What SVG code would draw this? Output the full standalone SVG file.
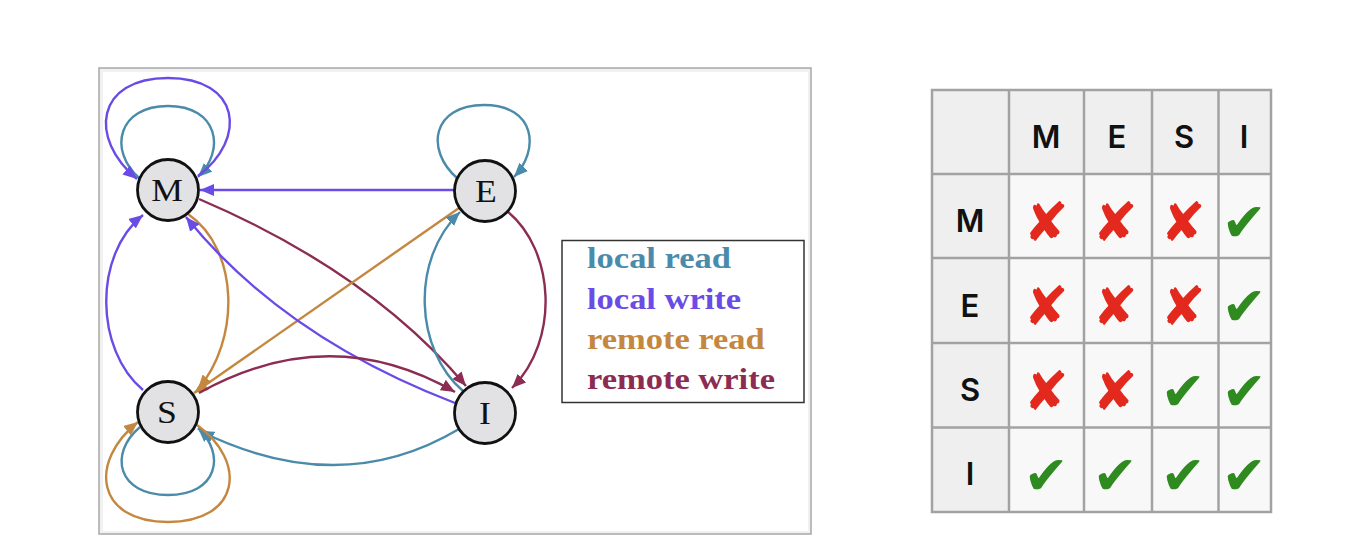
<svg xmlns="http://www.w3.org/2000/svg" width="1346" height="551" viewBox="0 0 1346 551">
<style>
.edge{fill:none;stroke-width:2.4}
.lr{stroke:#4a8aaa}
.lw{stroke:#6a4be6}
.rr{stroke:#c4873f}
.rw{stroke:#8c2c52}
.node circle{fill:#e2e2e4;stroke:#111;stroke-width:2.8}
.nlabel{font-family:"Liberation Serif","Times New Roman",serif;font-size:31px;fill:#111;text-anchor:middle}
.leg{font-family:"Liberation Serif","Times New Roman",serif;font-size:30px;font-weight:bold}
.th{font-family:Inter,Roboto,"Liberation Sans",Arial,sans-serif;font-weight:600;font-size:31px;fill:#111;text-anchor:middle}
.x{font-family:"DejaVu Sans",sans-serif;font-size:54px;fill:#e3281d;text-anchor:middle}
.ok{font-family:"DejaVu Sans",sans-serif;font-size:54px;fill:#2f8a20;text-anchor:middle}
.hd{fill:#efefef}
.cell{fill:#f8f8f8}
.grid{stroke:#a2a2a2;stroke-width:2.5;fill:none}
</style>
<defs>
<marker id="a-lr" markerUnits="userSpaceOnUse" markerWidth="15" markerHeight="12" refX="14" refY="6" orient="auto"><path d="M0,0 L14,6 L0,12 z" fill="#4a8aaa"/></marker>
<marker id="a-lw" markerUnits="userSpaceOnUse" markerWidth="15" markerHeight="12" refX="14" refY="6" orient="auto"><path d="M0,0 L14,6 L0,12 z" fill="#6a4be6"/></marker>
<marker id="a-rr" markerUnits="userSpaceOnUse" markerWidth="15" markerHeight="12" refX="14" refY="6" orient="auto"><path d="M0,0 L14,6 L0,12 z" fill="#c4873f"/></marker>
<marker id="a-rw" markerUnits="userSpaceOnUse" markerWidth="15" markerHeight="12" refX="14" refY="6" orient="auto"><path d="M0,0 L14,6 L0,12 z" fill="#8c2c52"/></marker>
</defs>
<rect width="1346" height="551" fill="#fff"/>
<!-- panel -->
<rect x="99" y="68" width="712" height="466" fill="#f1f1f1" stroke="#a8a8a8" stroke-width="1.5"/>
<rect x="103" y="72" width="705" height="459" fill="#fff"/>

<g id="connectors">
<!-- M self loops -->
<path class="edge lr" marker-end="url(#a-lr)" d="M139,178 C108,150 118,106 168,106 C218,106 226,150 198,177"/>
<path class="edge lw" marker-end="url(#a-lw)" d="M198,176 C248,138 240,78 168,78 C96,78 88,138 137,179"/>
<!-- E self loop -->
<path class="edge lr" marker-end="url(#a-lr)" d="M457,178 C425,150 432,105 484,105 C536,105 540,150 514,177"/>
<!-- E -> M -->
<path class="edge lw" marker-end="url(#a-lw)" d="M454,190 L200,190"/>
<!-- M -> I -->
<path class="edge rw" marker-end="url(#a-rw)" d="M199,199 Q370,272 466,386"/>
<!-- M -> S -->
<path class="edge rr" marker-end="url(#a-rr)" d="M188,214 C240,250 240,340 198,389"/>
<!-- E -> S -->
<path class="edge rr" marker-end="url(#a-rr)" d="M459,208 L194,393"/>
<!-- I -> E -->
<path class="edge lr" marker-end="url(#a-lr)" d="M463,391 C415,350 410,260 460,212"/>
<!-- E -> I -->
<path class="edge rw" marker-end="url(#a-rw)" d="M507,211 C555,250 560,340 512,388"/>
<!-- S -> M -->
<path class="edge lw" marker-end="url(#a-lw)" d="M143,390 C95,350 93,255 143,215"/>
<!-- I -> M -->
<path class="edge lw" marker-end="url(#a-lw)" d="M455,403 Q283,337 186,217"/>
<!-- S -> I -->
<path class="edge rw" marker-end="url(#a-rw)" d="M199,393 Q330,320 455,392"/>
<!-- I -> S -->
<path class="edge lr" marker-end="url(#a-lr)" d="M459,429 Q340,500 200,431"/>
<!-- S self loops -->
<path class="edge lr" marker-end="url(#a-lr)" d="M140,427 C108,454 118,495 168,495 C218,495 226,454 198,428"/>
<path class="edge rr" marker-end="url(#a-rr)" d="M197,425 C248,462 240,522 168,522 C96,522 88,462 138,422"/>
</g>

<g id="node-M" class="node"><circle cx="168" cy="190" r="30.5"/><text class="nlabel" transform="translate(167,201) scale(1.15,1)">M</text></g>
<g id="node-E" class="node"><circle cx="485" cy="191" r="30.5"/><text class="nlabel" transform="translate(486,201.5) scale(1.15,1)">E</text></g>
<g id="node-S" class="node"><circle cx="168" cy="412" r="30.5"/><text class="nlabel" transform="translate(167,423) scale(1.15,1)">S</text></g>
<g id="node-I" class="node"><circle cx="485" cy="413" r="30.5"/><text class="nlabel" transform="translate(485,424) scale(1.15,1)">I</text></g>

<g id="legend">
<rect x="562" y="240.5" width="242" height="162" fill="#fff" stroke="#333" stroke-width="1.5"/>
<text class="leg" fill="#4a8aaa" transform="translate(587,268) scale(1.15,1)">local read</text>
<text class="leg" fill="#6a4be6" transform="translate(587,308.5) scale(1.15,1)">local write</text>
<text class="leg" fill="#c4873f" transform="translate(587,348.5) scale(1.15,1)">remote read</text>
<text class="leg" fill="#8c2c52" transform="translate(587,389) scale(1.15,1)">remote write</text>
</g>

<g id="table">
<rect class="hd" x="932" y="90" width="339" height="84"/>
<rect class="hd" x="932" y="174" width="77" height="338"/>
<rect class="cell" x="1009" y="174" width="262" height="338"/>
<path class="grid" d="M932,90 H1271 V512 H932 Z M1009,90 V512 M1084,90 V512 M1152,90 V512 M1218.5,90 V512 M932,174 H1271 M932,258 H1271 M932,343 H1271 M932,427.5 H1271"/>
<text class="th" x="1046" y="148">M</text>
<text class="th" x="1117" y="148">E</text>
<text class="th" x="1184" y="148">S</text>
<text class="th" x="1244" y="148">I</text>
<text class="th" x="970" y="232">M</text>
<text class="th" x="970" y="317">E</text>
<text class="th" x="970" y="401">S</text>
<text class="th" x="970" y="485">I</text>
<text class="x" x="1046" y="241">✘</text><text class="x" x="1115" y="241">✘</text><text class="x" x="1183" y="241">✘</text><text class="ok" x="1244" y="241">✔</text>
<text class="x" x="1046" y="325">✘</text><text class="x" x="1115" y="325">✘</text><text class="x" x="1183" y="325">✘</text><text class="ok" x="1244" y="325">✔</text>
<text class="x" x="1046" y="410">✘</text><text class="x" x="1115" y="410">✘</text><text class="ok" x="1183" y="410">✔</text><text class="ok" x="1244" y="410">✔</text>
<text class="ok" x="1046" y="494">✔</text><text class="ok" x="1115" y="494">✔</text><text class="ok" x="1183" y="494">✔</text><text class="ok" x="1244" y="494">✔</text>
</g>
</svg>
